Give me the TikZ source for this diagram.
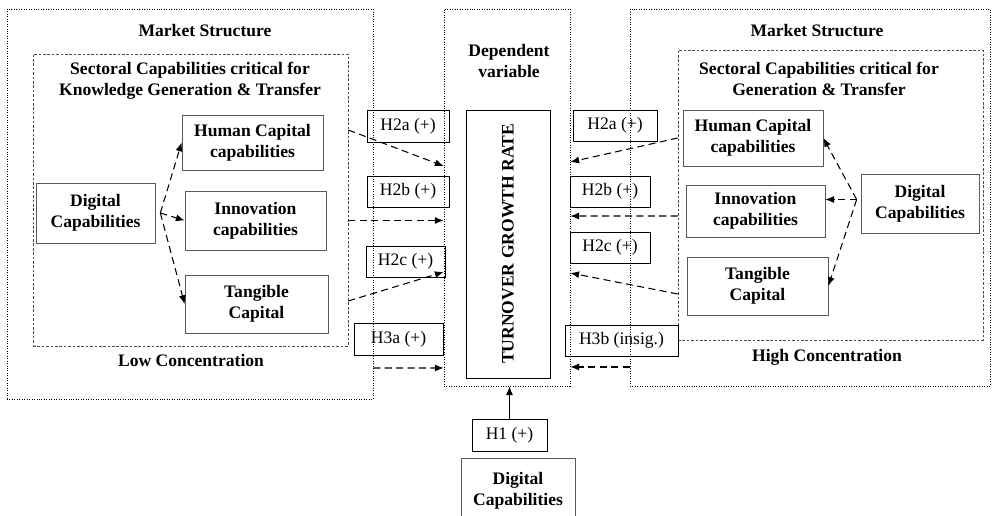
\documentclass[tikz,border=0pt]{standalone}
\usepackage{fontspec}
\setmainfont{Liberation Serif}
\usepackage{tikz}
\usetikzlibrary{positioning,arrows.meta}

\begin{document}
\begin{tikzpicture}[
  x=0.02cm, y=-0.02cm,
  every node/.style={font=\fontsize{10}{12}\selectfont},
  region/.style={draw, densely dotted, inner sep=0pt},
  sector/.style={draw=black!70, dash pattern=on 1.5pt off 1pt, inner sep=0pt},
  capbox/.style={draw=black!65, align=center, inner sep=1pt,
                 font=\fontsize{10}{12}\selectfont\bfseries},
  hyp/.style={draw, inner sep=1pt},
  title/.style={align=center, font=\fontsize{10}{12}\selectfont\bfseries},
  arr/.style={-{Latex[length=5pt,width=4pt]}, dash pattern=on 4pt off 2.5pt, semithick},
  solidarr/.style={-{Latex[length=5pt,width=4pt]}, semithick}
]
  \useasboundingbox (0,0) rectangle (992,515);

  % Low concentration region (left)
  \node[region, minimum width=7.32cm, minimum height=7.8cm] (low) at (190,204) {};
  \node[title] (msL) at (205,31) {Market Structure};
  \node[sector, minimum width=6.3cm, minimum height=5.84cm] (secL) at (190.5,200) {};
  \node[title] (scL) at (190,81) {Sectoral Capabilities critical for\\Knowledge Generation \& Transfer};
  \node[capbox, minimum width=2.38cm, minimum height=1.2cm] (digL) at (95.5,213) {Digital\\Capabilities};
  \node[capbox, minimum width=2.82cm, minimum height=1.1cm] (hcL) at (252.5,142.5) {Human Capital\\capabilities};
  \node[capbox, minimum width=2.82cm, minimum height=1.18cm] (innL) at (255.5,220.5) {Innovation\\capabilities};
  \node[capbox, minimum width=2.86cm, minimum height=1.16cm] (tanL) at (256.5,304) {Tangible\\Capital};
  \node[title] (lowc) at (191,360) {Low Concentration};

  % Dependent variable (centre)
  \node[region, minimum width=2.52cm, minimum height=7.54cm] (dep) at (507,197.5) {};
  \node[title] (depT) at (509,61) {Dependent\\variable};
  \node[draw, rotate=90, minimum width=5.36cm, minimum height=1.68cm,
        font=\fontsize{10}{12}\selectfont\bfseries] (tgr) at (508,244) {TURNOVER GROWTH RATE};

  % High concentration region (right)
  \node[region, minimum width=7.2cm, minimum height=7.54cm] (high) at (810,197.5) {};
  \node[title] (msR) at (817,31) {Market Structure};
  \node[sector, minimum width=6.1cm, minimum height=5.8cm] (secR) at (830.5,195) {};
  \node[title] (scR) at (819,79) {Sectoral Capabilities critical for\\Generation \& Transfer};
  \node[capbox, minimum width=2.8cm, minimum height=1.12cm] (hcR) at (753,138) {Human Capital\\capabilities};
  \node[capbox, minimum width=2.78cm, minimum height=1.04cm] (innR) at (755.5,211) {Innovation\\capabilities};
  \node[capbox, minimum width=2.82cm, minimum height=1.16cm] (tanR) at (757.5,286) {Tangible\\Capital};
  \node[capbox, minimum width=2.36cm, minimum height=1.18cm] (digR) at (920,203.5) {Digital\\Capabilities};
  \node[title] (highc) at (827,357) {High Concentration};

  % Digital capabilities (bottom, runs off the page)
  \node[capbox, minimum width=2.28cm, minimum height=1.3cm] (digB) at (518,490.5) {Digital\\Capabilities};
  \node[hyp, minimum width=1.5cm, minimum height=0.64cm] (h1) at (509.5,435) {H1 (+)};

  % Hypothesis labels
  \node[hyp, minimum width=1.64cm, minimum height=0.64cm] (h2aL) at (408,126) {H2a (+)};
  \node[hyp, minimum width=1.64cm, minimum height=0.62cm] (h2bL) at (408,191.5) {H2b (+)};
  \node[hyp, minimum width=1.58cm, minimum height=0.62cm] (h2cL) at (405.5,261.5) {H2c (+)};
  \node[hyp, minimum width=1.78cm, minimum height=0.64cm] (h3aL) at (398.5,339) {H3a (+)};
  \node[hyp, minimum width=1.68cm, minimum height=0.62cm] (h2aR) at (615,125.5) {H2a (+)};
  \node[hyp, minimum width=1.6cm, minimum height=0.62cm] (h2bR) at (610,191.5) {H2b (+)};
  \node[hyp, minimum width=1.6cm, minimum height=0.62cm] (h2cR) at (610,247.5) {H2c (+)};
  \node[hyp, minimum width=2.26cm, minimum height=0.62cm] (h3bR) at (621.5,340.5) {H3b (insig.)};

  % Left arrows
  \draw[arr] ([xshift=0.1cm]digL.east) -- (hcL.west);
  \draw[arr] ([xshift=0.1cm]digL.east) -- (innL.west);
  \draw[arr] ([xshift=0.1cm]digL.east) -- (tanL.west);
  \draw[arr] ([yshift=1.4cm]secL.east) -- ([yshift=0.63cm]dep.west);
  \draw[arr] (secL.east |- innL) -- (dep.west |- innL);
  \draw[arr] ([yshift=-2.02cm]secL.east) -- ([yshift=-1.49cm]dep.west);
  \draw[arr] ([yshift=-3.28cm]low.east) -- ([yshift=-3.41cm]dep.west);

  % Right arrows
  \coordinate (forkR) at ([xshift=-0.08cm,yshift=0.08cm]digR.west);
  \draw[arr] (forkR) -- (hcR.east);
  \draw[arr] (forkR) -- (innR.east |- forkR);
  \draw[arr] (forkR) -- (tanR.east);
  \draw[arr] (secR.west |- hcR) -- ([yshift=0.71cm]dep.east);
  \draw[arr] ([yshift=-0.42cm]secR.west) -- ([yshift=-0.37cm]dep.east);
  \draw[arr] ([yshift=-1.98cm]secR.west) -- ([yshift=-1.51cm]dep.east);
  \draw[arr] ([yshift=-3.39cm]high.west) -- ([yshift=-3.39cm]dep.east);

  % H1
  \draw[solidarr] (h1.north) -- (h1.north |- dep.south);
\end{tikzpicture}
\end{document}
